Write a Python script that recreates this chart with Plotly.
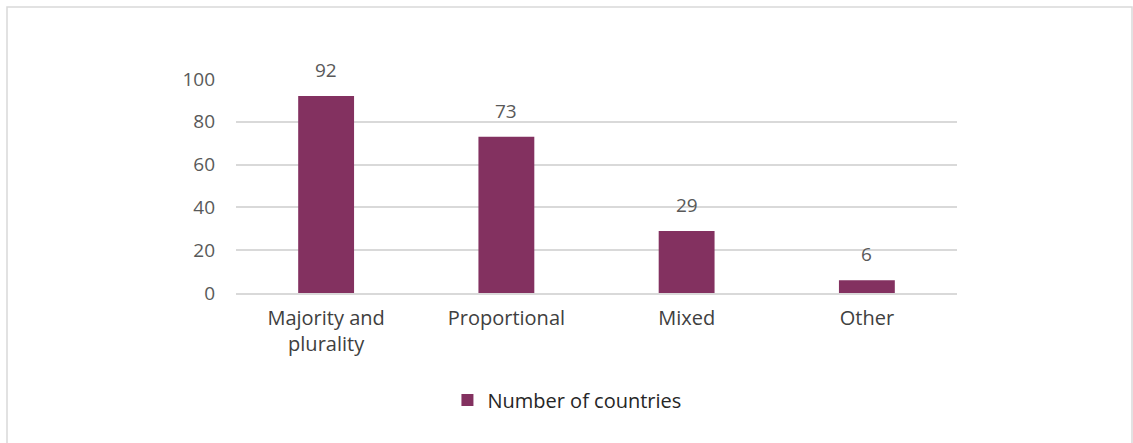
import plotly.graph_objects as go

categories = ["Majority and<br>plurality", "Proportional", "Mixed", "Other"]
countries = [92, 73, 29, 6]
y_ticks = [0, 20, 40, 60, 80, 100]
series_name = "Number of countries"

BAR = "#833160"
FONT = "Open Sans, Noto Sans, sans-serif"

fig = go.Figure()
fig.add_trace(go.Bar(
    x=categories,
    y=countries,
    name=series_name,
    marker=dict(color=BAR, line=dict(width=0)),
    showlegend=True,
))

# value labels above each bar
for cat, val in zip(categories, countries):
    fig.add_annotation(
        x=cat, y=val, xref="x", yref="y",
        text=str(val), showarrow=False,
        yanchor="bottom", yshift=11,
        font=dict(family=FONT, size=19, color="#595959"),
    )

fig.update_layout(
    width=1133,
    height=443,
    margin=dict(l=236, r=176, t=79, b=150),
    paper_bgcolor="white",
    plot_bgcolor="white",
    bargap=0.69,
    font=dict(family=FONT, size=19, color="#595959"),
    xaxis=dict(
        showgrid=False,
        showline=True,
        linecolor="#d9d9d9",
        linewidth=1.5,
        ticks="",
        ticklabelstandoff=6,
        tickfont=dict(family=FONT, size=20, color="#404040"),
        fixedrange=True,
    ),
    yaxis=dict(
        range=[0, 100],
        tickvals=y_ticks,
        showgrid=True,
        gridcolor="#d9d9d9",
        gridwidth=1.5,
        zeroline=False,
        showline=False,
        ticks="",
        ticklen=0,
        ticklabelstandoff=20,
        tickfont=dict(family=FONT, size=19, color="#595959"),
        fixedrange=True,
    ),
    legend=dict(
        orientation="h",
        x=0.459,
        xanchor="center",
        y=-0.5,
        yanchor="middle",
        font=dict(family=FONT, size=20, color="#262626"),
        itemwidth=30,
    ),
    shapes=[
        dict(
            type="rect",
            xref="paper",
            yref="paper",
            x0=(7 - 236) / 721,
            x1=(1132 - 236) / 721,
            y0=-1.0,
            y1=(293 - 7) / 214,
            line=dict(color="#d9d9d9", width=1.5),
            fillcolor="rgba(0,0,0,0)",
            layer="below",
        )
    ],
)

fig.write_html("out.html")
